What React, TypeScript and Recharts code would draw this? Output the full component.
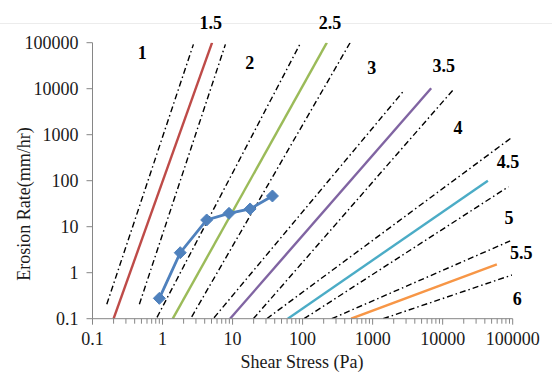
import React from 'react';
import { LineChart, Line, XAxis, YAxis, ReferenceDot } from 'recharts';

// ---- Data ----
const xMajorTicks = [0.1, 1, 10, 100, 1000, 10000, 100000];
const yTicks = [0.1, 1, 10, 100, 1000, 10000, 100000];
const minorMultipliers = [2, 3, 4, 5, 6, 7, 8, 9];

// Solid category lines (endpoints: shear stress Pa, erosion rate mm/hr)
const cat15 = [{ x: 0.2, y: 0.1 }, { x: 5.1, y: 100000 }];
const cat25 = [{ x: 1.4, y: 0.1 }, { x: 222, y: 100000 }];
const cat35 = [{ x: 9.2, y: 0.1 }, { x: 6850, y: 10200 }];
const cat45 = [{ x: 61.5, y: 0.1 }, { x: 44200, y: 100 }];
const cat55 = [{ x: 493, y: 0.1 }, { x: 59400, y: 1.52 }];

// Dash-dot boundary lines
const bound15L = [{ x: 0.16, y: 0.206 }, { x: 2.76, y: 92000 }];
const bound15R = [{ x: 0.467, y: 0.206 }, { x: 7.9, y: 92000 }];
const bound25L = [{ x: 0.834, y: 0.107 }, { x: 94, y: 100000 }];
const bound25R = [{ x: 2.61, y: 0.11 }, { x: 477, y: 100000 }];
const bound35L = [{ x: 5.44, y: 0.105 }, { x: 2790, y: 9060 }];
const bound35R = [{ x: 19.8, y: 0.1 }, { x: 14450, y: 9840 }];
const bound45L = [{ x: 30.8, y: 0.1 }, { x: 100000, y: 900 }];
const bound45R = [{ x: 105, y: 0.1 }, { x: 87000, y: 74 }];
const bound55L = [{ x: 261, y: 0.1 }, { x: 92000, y: 4.9 }];
const bound55R = [{ x: 1413, y: 0.1 }, { x: 97500, y: 0.89 }];

// Measured series
const measuredStress = [0.9, 1.79, 4.27, 8.9, 17.8, 37.1];
const measuredRate = [0.277, 2.72, 14.0, 19.5, 24.3, 46.5];

// Category labels
const catLabels = ['1', '1.5', '2', '2.5', '3', '3.5', '4', '4.5', '5', '5.5', '6'];
const catLabelX = [0.514, 4.89, 17.6, 247, 975, 10400, 16500, 85400, 88300, 132000, 116000];
const catLabelY = [59000, 272000, 35600, 264000, 27700, 31600, 1380, 251, 15.2, 2.64, 0.268];

// ---- Derived tables ----
const xAllTicks = xMajorTicks
  .slice(0, -1)
  .flatMap((d) => [d, ...minorMultipliers.map((m) => m * d)])
  .concat([xMajorTicks[xMajorTicks.length - 1]]);

const measured = measuredStress.map((x, i) => ({ x, y: measuredRate[i] }));

const solidLines = [
  { id: 'c15', data: cat15, color: '#BE4B48' },
  { id: 'c25', data: cat25, color: '#9BBB59' },
  { id: 'c35', data: cat35, color: '#8064A2' },
  { id: 'c45', data: cat45, color: '#4BACC6' },
  { id: 'c55', data: cat55, color: '#F79646' },
];

const dashLines = [
  { id: 'b15L', data: bound15L },
  { id: 'b15R', data: bound15R },
  { id: 'b25L', data: bound25L },
  { id: 'b25R', data: bound25R },
  { id: 'b35L', data: bound35L },
  { id: 'b35R', data: bound35R },
  { id: 'b45L', data: bound45L },
  { id: 'b45R', data: bound45R },
  { id: 'b55L', data: bound55L },
  { id: 'b55R', data: bound55R },
];

const labels = catLabels.map((t, i) => ({ t, x: catLabelX[i], y: catLabelY[i] }));

const FONT = '"Liberation Serif", "Times New Roman", serif';
const AXIS_GRAY = '#868686';
const TEXT = '#1a1a1a';

const XTick = (props: any) => {
  const { x, y, payload } = props;
  const isMajor = xMajorTicks.includes(payload.value);
  return (
    <g>
      <line x1={x} x2={x} y1={y} y2={y + (isMajor ? 6 : 5)} stroke={AXIS_GRAY} strokeWidth={1} />
      {isMajor && (
        <text x={x} y={y + 26} textAnchor="middle" fontFamily={FONT} fontSize={18} fill={TEXT}>
          {String(payload.value)}
        </text>
      )}
    </g>
  );
};

const XTitle = () => (
  <text x={302} y={368} textAnchor="middle" fontFamily={FONT} fontSize={18} fill={TEXT}>
    Shear Stress (Pa)
  </text>
);

const YTitle = () => (
  <text
    x={29.5}
    y={204}
    textAnchor="middle"
    fontFamily={FONT}
    fontSize={18}
    fill={TEXT}
    transform="rotate(-90 29.5 204)"
  >
    Erosion Rate(mm/hr)
  </text>
);

const Diamond = (props: any) => {
  const { cx, cy } = props;
  if (cx == null || cy == null) return null;
  const s = 6;
  return (
    <polygon
      points={`${cx},${cy - s} ${cx + s},${cy} ${cx},${cy + s} ${cx - s},${cy}`}
      fill="#4F81BD"
      stroke="#4F81BD"
      strokeWidth={1}
    />
  );
};

const LabelText = (text: string) => (props: any) => {
  const { cx, cy } = props;
  return (
    <text
      x={cx}
      y={cy}
      textAnchor="middle"
      dominantBaseline="central"
      fontFamily={FONT}
      fontSize={18}
      fontWeight="bold"
      fill="#000"
    >
      {text}
    </text>
  );
};

export default function App() {
  return (
    <div style={{ position: 'absolute', left: 0, top: 0, width: 552, height: 374, background: '#fff' }}>
      <div style={{ position: 'absolute', left: 0, top: 23, width: 552, height: 1, background: '#ececec' }} />
      <LineChart
        width={552}
        height={374}
        margin={{ top: 42.7, right: 39.3, bottom: 0, left: 0 }}
        style={{ fontFamily: FONT }}
      >
        <XAxis
          type="number"
          dataKey="x"
          scale="log"
          domain={[0.1, 100000]}
          ticks={xAllTicks}
          interval={0}
          allowDataOverflow
          height={55.3}
          axisLine={{ stroke: AXIS_GRAY, strokeWidth: 1 }}
          tickLine={false}
          tickSize={0}
          tickMargin={0}
          tick={<XTick />}
          label={<XTitle />}
        />
        <YAxis
          type="number"
          scale="log"
          domain={[0.1, 100000]}
          ticks={yTicks}
          interval={0}
          allowDataOverflow
          width={92.5}
          axisLine={{ stroke: AXIS_GRAY, strokeWidth: 1 }}
          tickLine={{ stroke: AXIS_GRAY, strokeWidth: 1 }}
          tickSize={6}
          tickMargin={8}
          tick={{ fill: TEXT, fontSize: 18, fontFamily: FONT }}
          tickFormatter={(v: number) => String(v)}
          label={<YTitle />}
        />
        {dashLines.map((l) => (
          <Line
            key={l.id}
            data={l.data}
            dataKey="y"
            type="linear"
            stroke="#000"
            strokeWidth={1.4}
            strokeDasharray="6 3 1.5 3"
            dot={false}
            activeDot={false}
            isAnimationActive={false}
          />
        ))}
        {solidLines.map((l) => (
          <Line
            key={l.id}
            data={l.data}
            dataKey="y"
            type="linear"
            stroke={l.color}
            strokeWidth={2.4}
            dot={false}
            activeDot={false}
            isAnimationActive={false}
          />
        ))}
        <Line
          data={measured}
          dataKey="y"
          type="linear"
          stroke="#4F81BD"
          strokeWidth={2.8}
          dot={<Diamond />}
          activeDot={false}
          isAnimationActive={false}
        />
        {labels.map((l) => (
          <ReferenceDot
            key={l.t}
            x={l.x}
            y={l.y}
            r={0}
            ifOverflow="visible"
            shape={LabelText(l.t)}
          />
        ))}
      </LineChart>
    </div>
  );
}
